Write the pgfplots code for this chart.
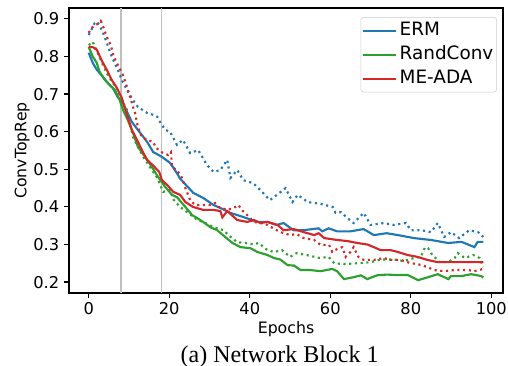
\documentclass[border=0pt]{standalone}
\usepackage{fontspec}
\setmainfont{DejaVu Sans}
\newfontfamily\capfont{Liberation Serif}
\usepackage{pgfplots}
\pgfplotsset{compat=1.18}
\definecolor{cB}{HTML}{1F77B4}
\definecolor{cG}{HTML}{2CA02C}
\definecolor{cR}{HTML}{D62728}
\begin{document}
\begin{tikzpicture}
\useasboundingbox (-51.75pt,-54.75pt) rectangle (329.25pt,219.75pt);
\begin{axis}[at={(0,0)}, anchor=south west, scale only axis,
  width=325.5pt, height=213.75pt,
  xmin=-4.9, xmax=102.9, ymin=0.171, ymax=0.929,
  xtick={0,20,...,100}, ytick={0.2,0.3,...,0.9},
  tick align=outside, tick pos=left, major tick length=3.8pt,
  every tick/.style={black, line width=0.9pt},
  axis line style={line width=0.9pt},
  tick label style={font=\fontsize{12.2}{14}\selectfont},
  label style={font=\fontsize{11.8}{13}\selectfont},
  /pgf/number format/assume math mode=true,
  yticklabel style={/pgf/number format/fixed, /pgf/number format/precision=1, /pgf/number format/fixed zerofill},
  xlabel=Epochs, ylabel=ConvTopRep,
  xlabel style={at={(axis description cs:0.5,-0.127)}, anchor=center},
  ylabel style={at={(axis description cs:-0.108,0.5)}, anchor=center},
  legend cell align=left,
  legend style={at={(0.986,0.968)}, anchor=north east, draw=black!20, rounded corners=2pt,
    fill=white, fill opacity=0.8, text opacity=1, font=\fontsize{13.8}{16}\selectfont,
    row sep=1pt, inner xsep=0.5pt, inner ysep=1.5pt,
    nodes={inner sep=2pt, text height=10pt, text depth=3pt}},
  legend image code/.code={\draw[#1, line width=1.6pt] (0pt,0pt) -- (25pt,0pt);},
  every axis plot/.append style={line width=1.6pt},
]
\addplot[color=black!25, line width=0.9pt, forget plot] coordinates {(8,0.171)(8,0.929)};
\addplot[color=black!25, line width=0.9pt, forget plot] coordinates {(18,0.171)(18,0.929)};
% ERM solid
\addplot[cB] coordinates {(0,0.81)(1,0.783)(2,0.765)(3.5,0.746)(4.7,0.73)(6,0.716)(7.2,0.692)(8.5,0.676)(10.7,0.626)(12.2,0.605)(14.5,0.573)(16,0.546)(18.2,0.533)(20.2,0.517)(21.9,0.49)(22.7,0.475)(24,0.46)(26,0.437)(28.4,0.424)(31,0.405)(32.7,0.397)(35.2,0.384)(38.4,0.373)(41.9,0.36)(44.4,0.36)(46.7,0.352)(48.4,0.357)(50.9,0.338)(53.4,0.338)(57.1,0.343)(58,0.335)(59.6,0.343)(61.7,0.335)(65,0.335)(68.3,0.341)(70.8,0.325)(74,0.33)(76.8,0.325)(80.8,0.317)(85,0.312)(89.3,0.304)(92.6,0.307)(95.8,0.293)(96.6,0.307)(98,0.307)};
\addlegendentry{ERM}
% ERM dotted
\addplot[cB, dash pattern=on 1.6pt off 2.7pt, forget plot] coordinates {(0,0.857)(1.5,0.889)(2.2,0.892)(3.5,0.865)(4.5,0.836)(5.7,0.80)(7,0.77)(8.2,0.738)(9.5,0.711)(11,0.684)(12.2,0.666)(14.5,0.65)(16,0.645)(17,0.64)(17.7,0.626)(19,0.605)(20.2,0.60)(21.9,0.565)(23.4,0.578)(25.2,0.543)(27.2,0.551)(29.4,0.511)(31,0.493)(32.7,0.498)(34.4,0.525)(35.2,0.477)(36.9,0.498)(38.4,0.471)(40.9,0.463)(42.6,0.445)(45,0.418)(46.5,0.43)(48.9,0.45)(50.6,0.413)(51.9,0.432)(54.4,0.413)(57.6,0.408)(60.6,0.40)(61.3,0.384)(62.6,0.386)(64.3,0.37)(65.8,0.357)(68.3,0.384)(70,0.352)(73.3,0.357)(75.8,0.352)(78.8,0.357)(80,0.338)(82.5,0.338)(85,0.333)(86.7,0.357)(88.3,0.32)(90,0.333)(92,0.317)(94.5,0.338)(96.7,0.333)(98,0.32)};
% RandConv solid
\addplot[cG] coordinates {(0,0.825)(1,0.80)(2,0.783)(2.7,0.759)(4,0.738)(5.2,0.724)(6.5,0.711)(7.7,0.684)(8.5,0.658)(9.7,0.631)(11,0.597)(12.2,0.56)(14,0.533)(15.7,0.506)(17.2,0.48)(19,0.453)(20.7,0.432)(21.9,0.426)(24,0.40)(25.7,0.378)(27,0.37)(28.4,0.36)(30.2,0.346)(31.9,0.338)(33.9,0.32)(35.7,0.304)(37.7,0.293)(40.2,0.29)(41.9,0.28)(44.4,0.272)(46,0.264)(47.6,0.26)(49.4,0.245)(51,0.244)(52.6,0.232)(55,0.232)(57.6,0.229)(60.5,0.235)(61.7,0.229)(63.4,0.208)(65.8,0.213)(67.6,0.218)(69.2,0.208)(71.6,0.218)(74.2,0.22)(75.8,0.219)(79.2,0.219)(81.8,0.205)(84.3,0.213)(86.7,0.221)(89.3,0.208)(90,0.216)(92.6,0.216)(95,0.221)(97.5,0.216)(98,0.212)};
\addlegendentry{RandConv}
% RandConv dotted
\addplot[cG, dash pattern=on 1.6pt off 2.7pt, forget plot] coordinates {(0,0.83)(1,0.839)(2.2,0.81)(3.5,0.778)(4.7,0.751)(6,0.73)(7.2,0.711)(8.2,0.684)(9.5,0.658)(11,0.586)(12.2,0.56)(13.7,0.53)(15.2,0.506)(17,0.477)(18.5,0.44)(20.2,0.445)(21,0.42)(22.7,0.40)(24.7,0.384)(27,0.365)(28.4,0.36)(31,0.346)(33.5,0.338)(34.7,0.325)(36.9,0.306)(38.9,0.304)(41,0.30)(42.2,0.304)(44.4,0.285)(46,0.28)(48,0.285)(50,0.267)(51.6,0.277)(54.1,0.272)(57.4,0.264)(59.6,0.267)(61,0.25)(63.4,0.248)(66.7,0.25)(70,0.253)(72.6,0.26)(75.8,0.26)(78.3,0.256)(80.8,0.264)(82.5,0.267)(83.5,0.292)(84.3,0.29)(85,0.277)(87.1,0.253)(89.2,0.253)(90.9,0.264)(91.7,0.277)(93.4,0.264)(95.5,0.272)(97.1,0.264)(98,0.24)};
% ME-ADA solid
\addplot[cR] coordinates {(0,0.825)(1,0.825)(2,0.818)(3.2,0.79)(4.5,0.764)(5.7,0.738)(7,0.716)(8.2,0.69)(9.5,0.645)(10.7,0.605)(12,0.578)(13.2,0.551)(14.5,0.525)(16,0.51)(17.5,0.493)(18.2,0.471)(19.5,0.458)(21,0.44)(22.7,0.432)(24,0.413)(25.9,0.40)(28.4,0.392)(31,0.392)(32.7,0.389)(33.2,0.372)(34.4,0.389)(36.9,0.365)(39.4,0.36)(41,0.365)(42.7,0.357)(44.4,0.36)(46.9,0.352)(48.4,0.338)(50.9,0.341)(53.4,0.333)(56,0.325)(57.1,0.33)(58.5,0.317)(61.7,0.312)(64.3,0.309)(66.7,0.304)(69.2,0.30)(70.8,0.293)(72.5,0.285)(75,0.285)(76.8,0.28)(79.2,0.272)(81.7,0.267)(84.1,0.259)(86.7,0.253)(89.2,0.253)(93.4,0.253)(98,0.253)};
\addlegendentry{ME-ADA}
% ME-ADA dotted
\addplot[cR, dash pattern=on 1.6pt off 2.7pt, forget plot] coordinates {(0,0.863)(0.7,0.876)(1.7,0.884)(2.7,0.889)(3,0.894)(3.7,0.876)(4.5,0.852)(5.5,0.83)(6.2,0.80)(7.5,0.772)(8.7,0.746)(9.5,0.719)(10.3,0.692)(11,0.666)(11.5,0.65)(12.2,0.613)(13.2,0.586)(14.5,0.578)(16,0.573)(16.7,0.557)(17.5,0.551)(18.2,0.545)(19.7,0.538)(20.4,0.546)(20.7,0.506)(21.9,0.498)(23.2,0.477)(24,0.45)(25.2,0.418)(26.4,0.405)(28,0.405)(30.2,0.405)(31.4,0.41)(32.2,0.40)(34.4,0.392)(36,0.397)(37.2,0.405)(38,0.392)(39.4,0.378)(41,0.36)(42.7,0.357)(44.4,0.352)(46,0.342)(47.6,0.333)(50,0.325)(51.6,0.328)(53.4,0.317)(56,0.312)(57.6,0.299)(59.7,0.299)(60.5,0.28)(61.7,0.288)(63,0.293)(63.8,0.267)(65,0.28)(65.8,0.293)(67,0.267)(68.3,0.259)(70.8,0.259)(73.3,0.264)(75,0.259)(77.5,0.259)(80,0.25)(81.7,0.248)(84.1,0.24)(85.8,0.232)(88.3,0.229)(90.8,0.232)(94.2,0.232)(95.8,0.229)(98,0.235)};
\end{axis}
\node[font=\capfont\fontsize{18}{21}\selectfont] at (158pt,-47.5pt) {(a) Network Block 1};
\end{tikzpicture}
\end{document}
